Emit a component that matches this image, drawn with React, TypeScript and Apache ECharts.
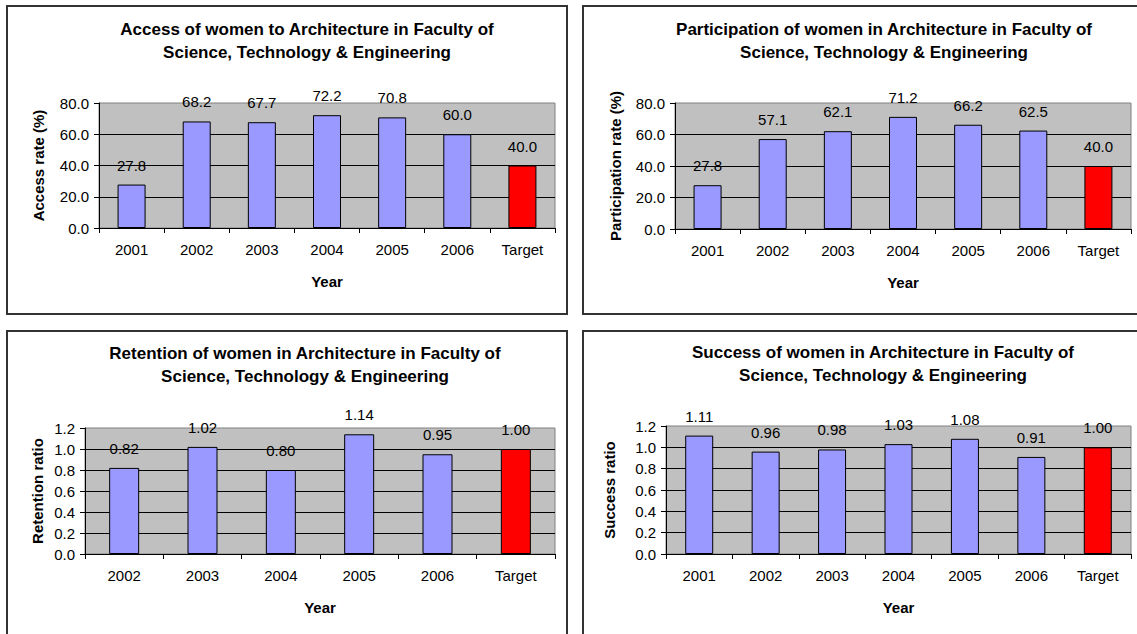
import React, { useEffect, useRef } from "react";
import * as echarts from "echarts";

const categoriesA = ["2001", "2002", "2003", "2004", "2005", "2006", "Target"];
const accessRate = [27.8, 68.2, 67.7, 72.2, 70.8, 60.0, 40.0];
const participationRate = [27.8, 57.1, 62.1, 71.2, 66.2, 62.5, 40.0];
const categoriesR = ["2002", "2003", "2004", "2005", "2006", "Target"];
const retentionRatio = [0.82, 1.02, 0.8, 1.14, 0.95, 1.0];
const categoriesS = ["2001", "2002", "2003", "2004", "2005", "2006", "Target"];
const successRatio = [1.11, 0.96, 0.98, 1.03, 1.08, 0.91, 1.0];

const titles = [
  "Access of women to Architecture in Faculty of\nScience, Technology & Engineering",
  "Participation of women in Architecture in Faculty of\nScience, Technology & Engineering",
  "Retention of women in Architecture in Faculty of\nScience, Technology & Engineering",
  "Success of women in Architecture in Faculty of\nScience, Technology & Engineering",
];
const yNames = ["Access rate (%)", "Participation rate (%)", "Retention ratio", "Success ratio"];

const FONT = "'Liberation Sans', Arial, sans-serif";
const BAR = "#9999FF";
const TARGET = "#FF0000";

export default function App() {
  const ref = useRef<HTMLDivElement>(null);
  useEffect(() => {
    if (!ref.current) return;
    const chart = echarts.init(ref.current, null, { renderer: "svg" });

    const panels = [
      { cats: categoriesA, vals: accessRate, max: 80, interval: 20, dec: 1, grid: { left: 99, top: 103, width: 456, height: 125 }, titleX: 302, titleTop: 13, yGap: 53, barW: 28 },
      { cats: categoriesA, vals: participationRate, max: 80, interval: 20, dec: 1, grid: { left: 675, top: 103, width: 456, height: 126 }, titleX: 879, titleTop: 13, yGap: 52, barW: 28 },
      { cats: categoriesR, vals: retentionRatio, max: 1.2, interval: 0.2, dec: 2, grid: { left: 85, top: 428, width: 470, height: 126 }, titleX: 300, titleTop: 337, yGap: 40, barW: 30 },
      { cats: categoriesS, vals: successRatio, max: 1.2, interval: 0.2, dec: 2, grid: { left: 666, top: 426, width: 465, height: 128 }, titleX: 878, titleTop: 336, yGap: 49, barW: 28 },
    ];

    const option: any = {
      animation: false,
      backgroundColor: "#ffffff",
      textStyle: { fontFamily: FONT },
      title: panels.map((p, i) => ({
        text: titles[i],
        left: p.titleX,
        top: p.titleTop,
        textAlign: "center",
        textStyle: { fontFamily: FONT, fontSize: 17, fontWeight: "bold", color: "#000", lineHeight: 23 },
      })),
      graphic: [
        { type: "rect", shape: { x: 7, y: 6, width: 560, height: 308 }, style: { fill: "none", stroke: "#333", lineWidth: 2 }, silent: true, z: -1 },
        { type: "rect", shape: { x: 583, y: 6, width: 600, height: 308 }, style: { fill: "none", stroke: "#333", lineWidth: 2 }, silent: true, z: -1 },
        { type: "rect", shape: { x: 7, y: 331, width: 560, height: 340 }, style: { fill: "none", stroke: "#333", lineWidth: 2 }, silent: true, z: -1 },
        { type: "rect", shape: { x: 583, y: 331, width: 600, height: 340 }, style: { fill: "none", stroke: "#333", lineWidth: 2 }, silent: true, z: -1 },
      ],
      grid: panels.map((p) => ({
        ...p.grid,
        show: true,
        backgroundColor: "#C0C0C0",
        borderColor: "#808080",
        borderWidth: 1,
        containLabel: false,
      })),
      xAxis: panels.map((p, i) => ({
        type: "category",
        gridIndex: i,
        data: p.cats,
        boundaryGap: true,
        name: "Year",
        nameLocation: "middle",
        nameGap: 46,
        nameTextStyle: { fontFamily: FONT, fontSize: 15, fontWeight: "bold", color: "#000" },
        axisLine: { show: true, lineStyle: { color: "#000", width: 1 } },
        axisTick: { show: true, length: 5, lineStyle: { color: "#000" } },
        axisLabel: { fontFamily: FONT, fontSize: 15, color: "#000", margin: 14 },
        splitLine: { show: false },
      })),
      yAxis: panels.map((p, i) => ({
        type: "value",
        gridIndex: i,
        min: 0,
        max: p.max,
        interval: p.interval,
        name: yNames[i],
        nameLocation: "middle",
        nameGap: p.yGap,
        nameTextStyle: { fontFamily: FONT, fontSize: 15, fontWeight: "bold", color: "#000" },
        axisLine: { show: true, lineStyle: { color: "#000", width: 1 } },
        axisTick: { show: true, length: 5, lineStyle: { color: "#000" } },
        axisLabel: {
          fontFamily: FONT,
          fontSize: 15,
          color: "#000",
          margin: 10,
          formatter: (v: number) => v.toFixed(1),
        },
        splitLine: { show: true, showMaxLine: false, lineStyle: { color: "#000", width: 1 } },
      })),
      series: panels.map((p, i) => ({
        type: "bar",
        xAxisIndex: i,
        yAxisIndex: i,
        barWidth: p.barW,
        data: p.vals.map((v, j) => ({
          value: v,
          itemStyle: { color: p.cats[j] === "Target" ? TARGET : BAR, borderColor: "#000", borderWidth: 1 },
        })),
        label: {
          show: true,
          position: "top",
          distance: 12,
          fontFamily: FONT,
          fontSize: 15,
          color: "#000",
          formatter: (d: any) => Number(d.value).toFixed(p.dec),
        },
      })),
    };
    chart.setOption(option);
    return () => chart.dispose();
  }, []);
  return <div ref={ref} style={{ position: "absolute", left: 0, top: 0, width: 1137, height: 634 }} />;
}
